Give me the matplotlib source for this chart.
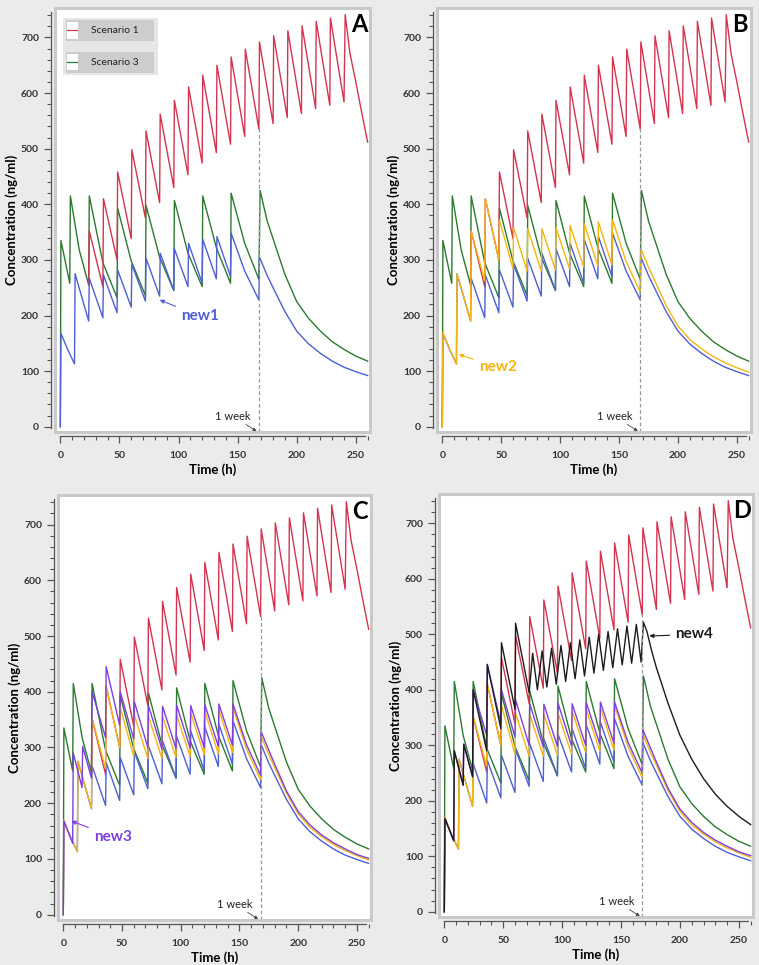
import matplotlib
matplotlib.use("Agg")
import matplotlib.pyplot as plt
from matplotlib.patches import Rectangle
from matplotlib.ticker import MultipleLocator

plt.rcParams['font.family'] = ['Lato', 'DejaVu Sans']

# ---- data (time in h, concentration in ng/ml) ----
s1_t = [24, 24.5, 36, 36.5, 48, 48.5, 60, 60.5, 72, 72.5, 84, 84.5, 96, 96.5, 108, 108.5,
        120, 120.5, 132, 132.5, 144, 144.5, 156, 156.5, 168, 168.5, 180, 180.5, 192, 192.5,
        204, 204.5, 216, 216.5, 228, 228.5, 240, 241, 245, 250, 255, 260]
s1_c = [255, 352, 252, 410, 300, 458, 338, 498, 375, 532, 403, 562, 430, 587, 453, 611,
        474, 632, 493, 650, 508, 665, 522, 679, 535, 692, 545, 703, 556, 712,
        563, 721, 572, 729, 578, 735, 584, 741, 672, 620, 565, 512]

s3_t = [0, 0.5, 8, 8.5, 16, 24, 24.5, 36, 48, 48.5, 60, 72, 72.5, 84, 96, 96.5, 108, 120,
        120.5, 132, 144, 144.5, 156, 168, 169, 175, 180, 190, 200, 210, 220, 230, 240, 250, 260]
s3_c = [0, 335, 258, 415, 318, 255, 415, 295, 232, 393, 298, 236, 398, 305, 245, 407, 312, 252,
        415, 322, 258, 420, 330, 265, 425, 370, 338, 274, 225, 195, 172, 153, 139, 127, 118]

n1_t = [0, 0.5, 6, 12, 12.5, 24, 24.5, 36, 36.5, 48, 48.5, 60, 60.5, 72, 72.5, 84, 84.5, 96,
        96.5, 108, 108.5, 120, 120.5, 132, 132.5, 144, 144.5, 156, 168, 168.5, 175, 180, 190,
        200, 210, 220, 230, 240, 250, 260]
n1_c = [0, 168, 140, 113, 275, 190, 267, 196, 273, 205, 282, 215, 292, 226, 303, 235, 312, 245,
        320, 252, 330, 258, 337, 266, 342, 270, 348, 280, 228, 305, 272, 250, 207,
        172, 149, 132, 118, 107, 99, 92]

n2_t = [0, 0.5, 6, 12, 12.5, 24, 24.5, 36, 36.5, 48, 48.5, 60, 60.5, 72, 72.5, 84, 84.5, 96,
        96.5, 108, 108.5, 120, 120.5, 132, 132.5, 144, 144.5, 156, 168, 168.5, 175, 180, 190,
        200, 210, 220, 230, 240, 250, 260]
n2_c = [0, 170, 140, 113, 275, 190, 352, 262, 410, 300, 372, 284, 358, 280, 356, 280, 356, 282,
        358, 284, 362, 287, 365, 289, 368, 291, 372, 297, 242, 320, 287, 264, 218,
        181, 157, 140, 126, 115, 106, 98]

n3_t = [0, 0.5, 8, 8.5, 16, 16.5, 24, 24.5, 36, 36.5, 48, 48.5, 60, 60.5, 72, 72.5, 84, 84.5,
        96, 96.5, 108, 108.5, 120, 120.5, 132, 132.5, 144, 144.5, 156, 168, 168.5, 175, 180,
        190, 200, 210, 220, 230, 240, 250, 260]
n3_c = [0, 168, 128, 290, 228, 302, 245, 400, 318, 445, 340, 400, 315, 382, 300, 375, 297, 374,
        298, 376, 299, 375, 300, 377, 302, 378, 304, 378, 305, 250, 328, 295, 270,
        222, 185, 161, 143, 129, 118, 108, 101]

n4_t = [0, 0.5, 8, 8.5, 16, 16.5, 24, 24.5, 36, 36.5, 48, 48.5, 60, 60.5, 72,
        75, 79, 83, 87, 91, 95, 99, 103, 107, 111, 115, 119, 123, 127, 131, 135, 139, 143,
        147, 151, 155, 159, 163, 167, 169, 172, 176, 180, 190, 200, 210, 220, 230, 240, 250, 260]
n4_c = [0, 168, 128, 290, 228, 302, 243, 400, 290, 446, 330, 485, 365, 520, 395,
        466, 400, 470, 405, 475, 410, 480, 415, 485, 420, 490, 425, 495, 430, 500, 435, 505, 440,
        510, 445, 515, 448, 518, 450, 522, 505, 470, 440, 375, 318, 275, 240, 212, 190, 172, 157]

legend_labels = ["Scenario 1", "Scenario 3"]
panel_letters = ["A", "B", "C", "D"]
new_labels = ["new1", "new2", "new3", "new4"]

RED, GREEN, BLUE = '#d6334f', '#2b7a2e', '#4d5fd2'
YELLOW, PURPLE, BLACK = '#f5b511', '#7d3fe0', '#1c1c1c'

series = [(s3_t, s3_c, GREEN), (s1_t, s1_c, RED), (n1_t, n1_c, BLUE),
          (n2_t, n2_c, YELLOW), (n3_t, n3_c, PURPLE), (n4_t, n4_c, BLACK)]
# how many series each panel shows
n_shown = [3, 4, 5, 6]

# label text position, arrow tip, colour
notes = [((118, 199), (84, 228), BLUE),
         ((47, 107), (14, 130), YELLOW),
         ((42, 140), (7, 168), PURPLE),
         ((212, 500), (174, 497), BLACK)]

W, H = 759, 965
fig = plt.figure(figsize=(W / 100, H / 100), dpi=100, facecolor='#ebebeb')

frames = [(55, 8, 370, 432), (437, 8, 751, 432), (58, 495, 371, 920), (439, 494, 753, 917)]

for i, (l, t, r, b) in enumerate(frames):
    ax = fig.add_axes([l / W, 1 - b / H, (r - l) / W, (b - t) / H])
    ax.set_facecolor('white')
    for st, sc, col in series[:n_shown[i]]:
        ax.plot(st, sc, color=col, lw=1.0)

    ax.set_xlim(-4.5, 262)
    ax.set_ylim(-9.5, 753)

    for side in ['top', 'right']:
        ax.spines[side].set_visible(False)
    for side in ['left', 'bottom']:
        ax.spines[side].set_position(('outward', 3))
        ax.spines[side].set_color('#555555')
        ax.spines[side].set_linewidth(0.9)
    ax.spines['left'].set_bounds(-3, 745)
    ax.spines['bottom'].set_bounds(0, 258)
    ax.add_patch(Rectangle((0, 0), 1, 1, transform=ax.transAxes, fill=False,
                           edgecolor='#c9c9c9', lw=2.2, clip_on=False, zorder=5))

    ax.xaxis.set_major_locator(MultipleLocator(50))
    ax.xaxis.set_minor_locator(MultipleLocator(10))
    ax.yaxis.set_major_locator(MultipleLocator(100))
    ax.yaxis.set_minor_locator(MultipleLocator(20))
    ax.tick_params(which='major', length=5, width=0.9, color='#555555',
                   labelsize=7.5, labelcolor='#333333')
    ax.tick_params(axis='x', which='major', pad=6)
    ax.tick_params(which='minor', length=3, width=0.8, color='#555555')
    for lab in ax.get_xticklabels() + ax.get_yticklabels():
        lab.set_fontweight('bold')

    ax.set_xlabel("Time (h)", fontsize=9.5, fontweight='bold', labelpad=2)
    ax.set_ylabel("Concentration (ng/ml)", fontsize=9.5, fontweight='bold', labelpad=2)

    # 1 week marker
    ax.plot([168, 168], [-9.5, 537], color='#999999', lw=0.9, ls=(0, (3, 2)))
    ax.annotate("1 week", xy=(166, -8), xytext=(146, 19), fontsize=8, color='#222222',
                ha='center', va='center',
                arrowprops=dict(arrowstyle='-|>', color='#444444', lw=0.6,
                                mutation_scale=5, shrinkA=0, shrinkB=0))

    ax.text(0.965, 0.962, panel_letters[i], transform=ax.transAxes, fontsize=17,
            fontweight='bold', ha='center', va='center')

    (tx, ty), (ax_, ay_), col = notes[i]
    ax.annotate(new_labels[i], xy=(ax_, ay_), xytext=(tx, ty), fontsize=11,
                fontweight='bold', color=col, ha='center', va='center',
                arrowprops=dict(arrowstyle='-|>', color=col, lw=0.8,
                                mutation_scale=6, shrinkA=2, shrinkB=0))

    if i == 0:
        ax.add_patch(Rectangle((0.025, 0.842), 0.302, 0.134, transform=ax.transAxes,
                               facecolor='#e6e6e6', edgecolor='none', zorder=6))
        for k, (lab, col) in enumerate(zip(legend_labels, [RED, GREEN])):
            y0 = 0.922 - k * 0.075
            ax.add_patch(Rectangle((0.035, y0), 0.28, 0.05, transform=ax.transAxes,
                                   facecolor='#cdcdcd', edgecolor='none', zorder=7))
            ax.add_patch(Rectangle((0.037, y0 + 0.006), 0.036, 0.038, transform=ax.transAxes,
                                   facecolor='white', edgecolor='none', zorder=8))
            ax.plot([0.039, 0.071], [y0 + 0.025, y0 + 0.025], transform=ax.transAxes,
                    color=col, lw=0.9, zorder=9)
            ax.text(0.19, y0 + 0.025, lab, transform=ax.transAxes, fontsize=7.5,
                    ha='center', va='center', color='#222222', zorder=9)

fig.savefig("out.png", dpi=100, facecolor=fig.get_facecolor())
